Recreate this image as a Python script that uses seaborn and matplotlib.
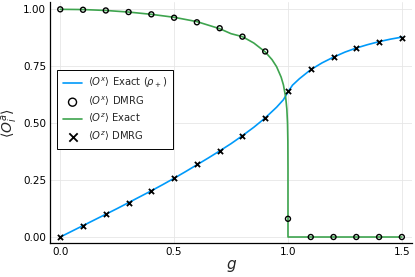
import matplotlib
matplotlib.use("Agg")
import matplotlib.pyplot as plt
import seaborn as sns
import pandas as pd

# Exact <O^x> (blue line)
gx_exact = [0.0, 0.05, 0.1, 0.15, 0.2, 0.25, 0.3, 0.35, 0.4, 0.45, 0.5, 0.55, 0.6, 0.65,
            0.7, 0.75, 0.8, 0.85, 0.9, 0.95, 0.98, 1.0, 1.02, 1.05, 1.1, 1.15, 1.2, 1.25,
            1.3, 1.35, 1.4, 1.45, 1.5]
ox_exact = [0.0, 0.025, 0.05, 0.075, 0.100, 0.125, 0.151, 0.177, 0.203, 0.230, 0.258, 0.287,
            0.317, 0.347, 0.378, 0.410, 0.445, 0.482, 0.523, 0.570, 0.603, 0.637, 0.667,
            0.695, 0.735, 0.765, 0.790, 0.812, 0.830, 0.845, 0.858, 0.869, 0.878]

# Exact <O^z> (green line)
gz_exact = [0.0, 0.1, 0.2, 0.3, 0.4, 0.5, 0.6, 0.7, 0.75, 0.8, 0.85, 0.9, 0.93, 0.95, 0.97,
            0.98, 0.99, 0.995, 0.998, 0.9995, 1.0, 1.0, 1.1, 1.2, 1.3, 1.4, 1.5]
oz_exact = [1.0, 0.999, 0.995, 0.988, 0.978, 0.965, 0.946, 0.915, 0.893, 0.880, 0.852, 0.813,
            0.779, 0.748, 0.702, 0.668, 0.613, 0.562, 0.500, 0.420, 0.300, 0.0, 0.0, 0.0,
            0.0, 0.0, 0.0]

# DMRG points
g_dmrg = [0.0, 0.1, 0.2, 0.3, 0.4, 0.5, 0.6, 0.7, 0.8, 0.9, 1.0, 1.1, 1.2, 1.3, 1.4, 1.5]
oz_dmrg = [1.0, 0.998, 0.995, 0.988, 0.978, 0.963, 0.943, 0.917, 0.880, 0.815, 0.080,
           0.0, 0.0, 0.0, 0.0, 0.0]
ox_dmrg = [0.0, 0.05, 0.10, 0.15, 0.20, 0.26, 0.32, 0.377, 0.444, 0.523, 0.64, 0.74, 0.79,
           0.83, 0.855, 0.875]

x_ticks = [0.0, 0.5, 1.0, 1.5]
x_ticklabels = ["0.0", "0.5", "1.0", "1.5"]
y_ticks = [0.0, 0.25, 0.5, 0.75, 1.0]
y_ticklabels = ["0.00", "0.25", "0.50", "0.75", "1.00"]

sns.set_style("white")
plt.rcParams['font.family'] = ['DejaVu Sans']
plt.rcParams['mathtext.fontset'] = 'dejavusans'

fig = plt.figure(figsize=(4.15, 2.77), dpi=100)
ax = fig.add_axes([0.121, 0.123, 0.872, 0.868])

BLUE = "#009AFA"
GREEN = "#3EA44E"

df_x = pd.DataFrame({"g": gx_exact, "v": ox_exact})
df_z = pd.DataFrame({"g": gz_exact, "v": oz_exact})
df_d = pd.DataFrame({"g": g_dmrg, "oz": oz_dmrg, "ox": ox_dmrg})

sns.lineplot(data=df_x, x="g", y="v", ax=ax, color=BLUE, lw=1.2, sort=False,
             estimator=None, label=r"$\langle O^x\rangle$ Exact $(\rho_+)$", zorder=2)
ax.scatter(df_d["g"], df_d["oz"], marker="o", s=13, facecolors="none", edgecolors="black",
           linewidths=1.0, label=r"$\langle O^x\rangle$ DMRG", zorder=4)
sns.lineplot(data=df_z, x="g", y="v", ax=ax, color=GREEN, lw=1.2, sort=False,
             estimator=None, label=r"$\langle O^z\rangle$ Exact", zorder=3)
sns.scatterplot(data=df_d, x="g", y="ox", ax=ax, marker="x", s=14, color="black",
                linewidth=1.3, label=r"$\langle O^z\rangle$ DMRG", zorder=5)

ax.set_xlim(-0.044, 1.545)
ax.set_ylim(-0.026, 1.03)
ax.set_xticks(x_ticks)
ax.set_xticklabels(x_ticklabels)
ax.set_yticks(y_ticks)
ax.set_yticklabels(y_ticklabels)
ax.tick_params(labelsize=7.5, length=3, width=0.6, direction="in", colors="black", pad=3)
ax.grid(True, color="#e6e6e6", lw=0.6)
for s in ["top", "right"]:
    ax.spines[s].set_visible(False)
for s in ["left", "bottom"]:
    ax.spines[s].set_color("black")
    ax.spines[s].set_linewidth(0.9)

ax.set_xlabel(r"$g$", fontsize=11, labelpad=1)
ax.set_ylabel(r"$\langle O_i^a\rangle$", fontsize=10, labelpad=2)

h, l = ax.get_legend_handles_labels()
leg = ax.legend(h, l, loc="upper left", bbox_to_anchor=(0.005, 0.74), fontsize=7.2,
                frameon=True, fancybox=False, edgecolor="black", framealpha=1,
                handlelength=1.9, handletextpad=0.6, borderpad=0.6, labelspacing=0.4,
                markerscale=1.6)
leg.get_frame().set_linewidth(0.7)

fig.savefig("out.png", dpi=100)
